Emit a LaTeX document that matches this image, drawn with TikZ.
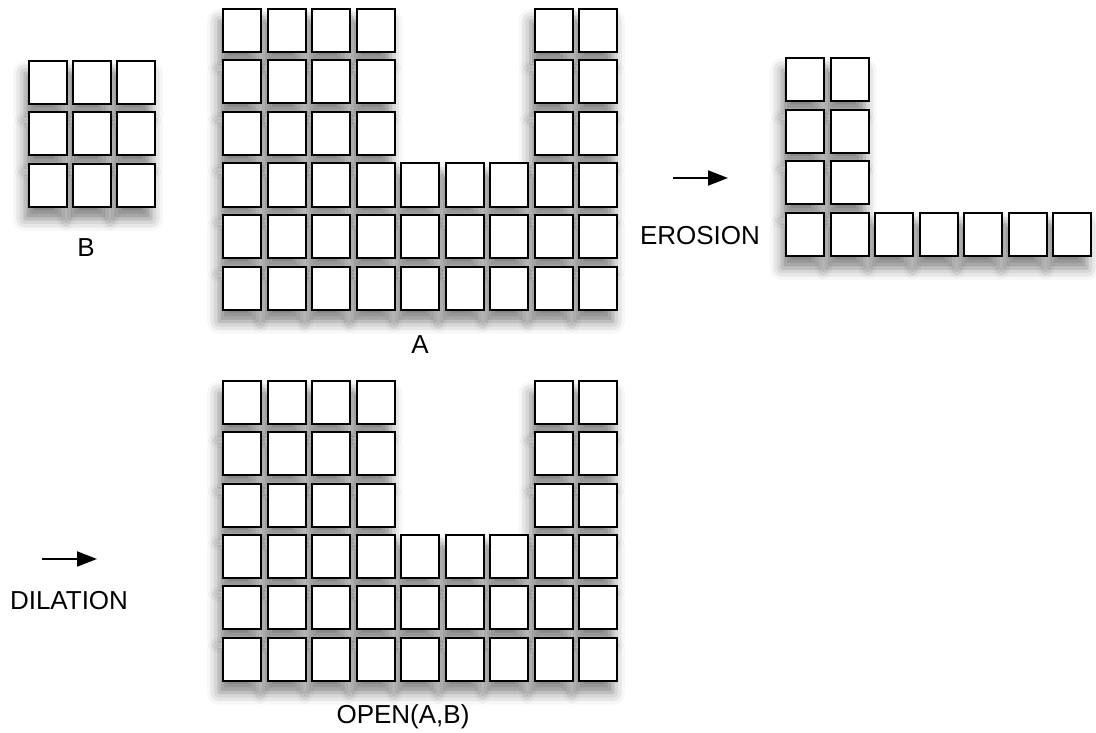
\documentclass[tikz,border=0pt]{standalone}
\usepackage{fontspec}
\setmainfont{Liberation Sans}
\usetikzlibrary{arrows.meta,shadows.blur}

\tikzset{
  cell/.style={draw=black, fill=white, line width=2bp, inner sep=0pt,
    minimum width=38bp, minimum height=43bp},
  cellshadow/.style={draw=none, fill=none, inner sep=0pt,
    minimum width=38bp, minimum height=43bp,
    blur shadow={shadow xshift=-4bp, shadow yshift=-12bp,
      shadow blur radius=12bp, shadow opacity=50}},
  lbl/.style={font=\fontsize{26bp}{30bp}\selectfont, inner sep=0pt},
  op arrow/.style={line width=2bp, -{Triangle[length=20bp,width=15bp]}}
}

% one pass over all cells: #1 style, #2 name prefix
\newcommand{\drawcells}[2]{%
  % B
  \foreach \r in {0,1,2}
    \foreach \c in {0,1,2}
      \node[#1] (#2b-\r-\c) at (48+44*\c, 82.5+51.5*\r) {};
  % A and OPEN(A,B)
  \foreach \r in {0,1,2}
    \foreach \c in {0,1,2,3,7,8} {
      \node[#1] (#2a-\r-\c) at (242+44.5*\c, 30.5+51.5*\r) {};
      \node[#1] (#2o-\r-\c) at (242+44.5*\c, 402.5+51.3*\r) {};
    }
  \foreach \r in {3,4,5}
    \foreach \c in {0,...,8} {
      \node[#1] (#2a-\r-\c) at (242+44.5*\c, 30.5+51.5*\r) {};
      \node[#1] (#2o-\r-\c) at (242+44.5*\c, 402.5+51.3*\r) {};
    }
  % erosion
  \foreach \r in {0,1,2}
    \foreach \c in {0,1}
      \node[#1] (#2e-\r-\c) at (805+44.5*\c, 79.5+51.7*\r) {};
  \foreach \c in {0,...,6}
    \node[#1] (#2e-3-\c) at (805+44.5*\c, 234.6) {};
}

\begin{document}
\begin{tikzpicture}[x=1bp, y=-1bp]
  \useasboundingbox (0,0) rectangle (1096,733);

  % shadows first, then the cells on top
  \drawcells{cellshadow}{s}
  \drawcells{cell}{}

  % labels
  \node[lbl] (lbl-b) at (86,248) {B};
  \node[lbl] (lbl-a) at (420,345) {A};
  \node[lbl] (lbl-open) at (403,717) {OPEN(A,B)};
  \node[lbl] (lbl-ero) at (700,236) {EROSION};
  \node[lbl] (lbl-dil) at (69,601) {DILATION};

  % arrows
  \coordinate (ero-from) at (673,178);
  \coordinate (ero-to) at (728,178);
  \draw[op arrow] (ero-from) -- (ero-to);
  \coordinate (dil-from) at (42,559);
  \coordinate (dil-to) at (97,559);
  \draw[op arrow] (dil-from) -- (dil-to);
\end{tikzpicture}
\end{document}
